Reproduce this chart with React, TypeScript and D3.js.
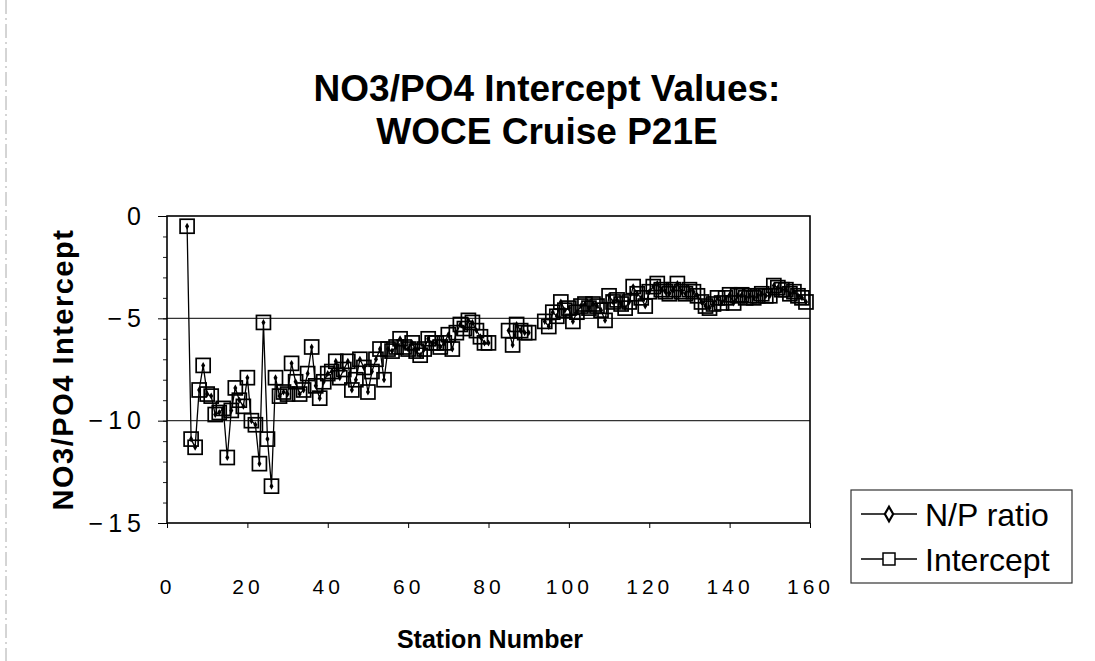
import React, { useEffect, useRef } from 'react'
import * as d3 from 'd3'

// stations 5..159, null = no sample (gap in line)
const firstStation = 5
const intercept: (number | null)[] = [
  -0.5, -10.9, -11.3, -8.5, -7.3, -8.7, -8.8, -9.7, -9.6, -9.4,
  -11.8, -9.5, -8.4, -9.0, -9.3, -7.9, -10.0, -10.2, -12.1, -5.2,
  -10.9, -13.2, -7.9, -8.8, -8.6, -8.7, -7.2, -8.1, -8.7, -8.5,
  -7.7, -6.4, -8.3, -8.9, -8.1, -7.7, -7.6, -7.1, -7.9, -7.5,
  -7.1, -8.5, -8.0, -7.0, -7.4, -8.6, -7.6, -7.0, -6.5, -8.0,
  -6.5, -6.6, -6.4, -6.0, -6.4, -6.5, -6.2, -6.6, -6.8, -6.5,
  -6.0, -6.2, -6.2, -6.4, -6.2, -5.8, -6.5, -5.7, -5.3, -5.5,
  -5.1, -5.2, -5.6, -5.9, -6.2, -6.2, null, null, null, null,
  -5.6, -6.3, -5.3, -5.6, -5.7, -5.7, null, null, null, -5.15,
  -5.4, -4.7, -4.9, -4.2, -4.6, -4.5, -5.15, -4.7, -4.4, -4.3,
  -4.5, -4.3, -4.4, -4.6, -5.1, -3.9, -4.2, -4.1, -4.3, -4.5,
  -4.2, -3.45, -3.8, -4.0, -4.4, -3.7, -3.45, -3.3, -3.6, -3.7,
  -3.8, -3.6, -3.3, -3.7, -3.8, -3.6, -3.7, -3.9, -4.2, -4.4,
  -4.5, -4.3, -4.0, -4.25, -4.0, -3.85, -4.25, -3.9, -3.85, -4.0,
  -3.9, -4.0, -3.9, -3.8, -3.9, -3.9, -3.4, -3.5, -3.6, -3.6,
  -3.8, -3.7, -3.9, -4.0, -4.2,
]
// N/P ratio markers sit under the intercept markers in the original
const npRatio = intercept

const xTicks = [0, 20, 40, 60, 80, 100, 120, 140, 160]
const yTicks = [0, -5, -10, -15]
const titleLines = ['NO3/PO4 Intercept Values:', 'WOCE Cruise P21E']
const legendItems = ['N/P ratio', 'Intercept']

const W = 1095
const H = 661
const FONT = '"Liberation Sans", Arial, sans-serif'

const App = () => {
  const ref = useRef<SVGSVGElement>(null)

  useEffect(() => {
    const svg = d3.select(ref.current)
    svg.selectAll('*').remove()

    const m = { left: 167, right: 810, top: 216, bottom: 523 }
    const x = d3.scaleLinear().domain([0, 160]).range([m.left, m.right])
    const y = d3.scaleLinear().domain([-15, 0]).range([m.bottom, m.top])

    const rows = intercept.map((v, i) => ({ s: firstStation + i, v, np: npRatio[i] }))

    svg.append('rect').attr('width', W).attr('height', H).attr('fill', '#fff')
    svg
      .append('line')
      .attr('x1', 6).attr('x2', 6).attr('y1', 0).attr('y2', H)
      .attr('stroke', '#aaa').attr('stroke-dasharray', '14 4 2 4')

    // title
    svg
      .append('g')
      .selectAll('text')
      .data(titleLines)
      .join('text')
      .attr('x', 547)
      .attr('y', (d, i) => 101 + i * 43)
      .attr('text-anchor', 'middle')
      .style('font', `bold 37px ${FONT}`)
      .text(d => d)

    // grid
    svg
      .append('g')
      .selectAll('line')
      .data([-5, -10])
      .join('line')
      .attr('x1', m.left).attr('x2', m.right)
      .attr('y1', d => y(d)).attr('y2', d => y(d))
      .attr('stroke', '#333').attr('stroke-width', 1.3)

    // axes
    const yAxis = svg.append('g').attr('transform', `translate(${m.left},0)`)
    yAxis
      .call(d3.axisLeft(y).tickValues(d3.range(-15, 1, 1)).tickSize(4).tickFormat(() => ''))
      .call(g => g.select('.domain').remove())
    yAxis.selectAll('line').attr('stroke', '#222')
    yAxis
      .append('g')
      .call(d3.axisLeft(y).tickValues(yTicks).tickSize(9).tickPadding(12).tickFormat(d3.format('d')))
      .call(g => g.select('.domain').remove())
      .call(g => g.selectAll('text').style('font', `25px ${FONT}`).attr('fill', '#000').attr('letter-spacing', 5))

    svg
      .append('g')
      .attr('transform', `translate(0,${m.bottom})`)
      .call(d3.axisBottom(x).tickValues(xTicks).tickSize(5).tickPadding(51))
      .call(g => g.select('.domain').remove())
      .call(g => g.selectAll('text').style('font', `21px ${FONT}`).attr('fill', '#000').attr('letter-spacing', 4))

    svg
      .append('rect')
      .attr('x', m.left).attr('y', m.top)
      .attr('width', m.right - m.left).attr('height', m.bottom - m.top)
      .attr('fill', 'none').attr('stroke', '#000').attr('stroke-width', 1.6)

    // axis titles
    svg
      .append('text')
      .attr('transform', `translate(73,${(m.top + m.bottom) / 2}) rotate(-90)`)
      .attr('text-anchor', 'middle')
      .style('font', `bold 29px ${FONT}`)
      .attr('letter-spacing', 1.5)
      .text('NO3/PO4 Intercept')

    svg
      .append('text')
      .attr('x', 490).attr('y', 648)
      .attr('text-anchor', 'middle')
      .style('font', `bold 25px ${FONT}`)
      .text('Station Number')

    // series
    const line = d3
      .line<{ s: number; v: number | null }>()
      .defined(d => d.v !== null)
      .x(d => x(d.s))
      .y(d => y(d.v as number))

    svg
      .append('path')
      .datum(rows)
      .attr('d', line)
      .attr('fill', 'none').attr('stroke', '#000').attr('stroke-width', 1.3)

    const pts = rows.filter(d => d.v !== null)
    const diamond = d3.symbol().type(d3.symbolDiamond).size(14)
    svg
      .append('g')
      .selectAll('path')
      .data(pts)
      .join('path')
      .attr('transform', d => `translate(${x(d.s)},${y(d.np as number)})`)
      .attr('d', diamond)
      .attr('fill', '#000')

    svg
      .append('g')
      .selectAll('rect')
      .data(pts)
      .join('rect')
      .attr('x', d => x(d.s) - 7).attr('y', d => y(d.v as number) - 7)
      .attr('width', 14).attr('height', 14)
      .attr('fill', 'none').attr('stroke', '#000').attr('stroke-width', 1.7)

    // legend
    const lg = svg.append('g').attr('transform', 'translate(851,490)')
    lg.append('rect')
      .attr('width', 221).attr('height', 93)
      .attr('fill', '#fff').attr('stroke', '#333').attr('stroke-width', 1.2)
    const item = lg
      .selectAll('g.item')
      .data(legendItems)
      .join('g')
      .attr('class', 'item')
      .attr('transform', (d, i) => `translate(0,${24 + i * 45})`)
    item.append('line').attr('x1', 10).attr('x2', 66).attr('stroke', '#000').attr('stroke-width', 1.6)
    item.filter((d, i) => i === 0)
      .append('path').attr('transform', 'translate(38,0)')
      .attr('d', d3.symbol().type(d3.symbolDiamond).size(60))
      .attr('fill', '#fff').attr('stroke', '#000').attr('stroke-width', 2.2)
    item.filter((d, i) => i === 1)
      .append('rect').attr('x', 32).attr('y', -6).attr('width', 12).attr('height', 12)
      .attr('fill', '#fff').attr('stroke', '#000').attr('stroke-width', 1.5)
    item.append('text')
      .attr('x', 74).attr('dy', '0.36em')
      .style('font', `32px ${FONT}`)
      .text(d => d)
  }, [])

  return (
    <svg
      ref={ref}
      width={W}
      height={H}
      style={{ position: 'absolute', left: 0, top: 0, display: 'block' }}
    />
  )
}

export default App
